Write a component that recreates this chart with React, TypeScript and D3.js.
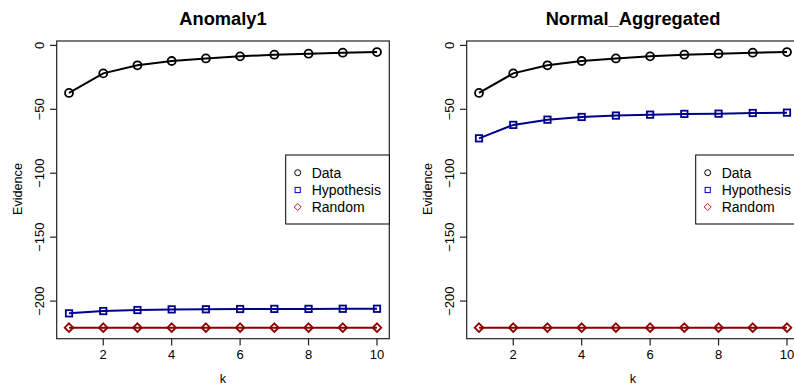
import React from "react";
import * as d3 from "d3";

const kValues = [1, 2, 3, 4, 5, 6, 7, 8, 9, 10];
const anomalyData = [-37.2, -21.9, -15.6, -12.2, -10.2, -8.6, -7.3, -6.5, -5.7, -5.2];
const anomalyHypothesis = [-209.6, -207.8, -207.0, -206.5, -206.4, -206.2, -206.1, -206.1, -206.0, -206.0];
const anomalyRandom = [-220.8, -220.8, -220.8, -220.8, -220.8, -220.8, -220.8, -220.8, -220.8, -220.8];
const normalData = [-37.2, -21.9, -15.6, -12.2, -10.2, -8.6, -7.3, -6.5, -5.7, -5.2];
const normalHypothesis = [-72.7, -62.2, -58.1, -56.0, -54.9, -54.2, -53.6, -53.4, -52.9, -52.6];
const normalRandom = [-220.8, -220.8, -220.8, -220.8, -220.8, -220.8, -220.8, -220.8, -220.8, -220.8];
const xTicks = [2, 4, 6, 8, 10];
const yTicks = [0, -50, -100, -150, -200];
const seriesNames = ["Data", "Hypothesis", "Random"];
const panelTitles = ["Anomaly1", "Normal_Aggregated"];

const FONT = "'Liberation Sans', Arial, Helvetica, sans-serif";
const COLORS = ["#000000", "#00008B", "#8B0000"];
const LEGEND_COLORS = ["#000000", "#0000CD", "#B22222"];

function Marker({ kind, x, y, color, size, sw }: { kind: number; x: number; y: number; color: string; size: number; sw: number }) {
  if (kind === 0) return <circle cx={x} cy={y} r={size} fill="none" stroke={color} strokeWidth={sw} />;
  if (kind === 1)
    return <rect x={x - size} y={y - size} width={size * 2} height={size * 2} fill="none" stroke={color} strokeWidth={sw} />;
  const d = size * 1.35;
  return (
    <path d={`M${x},${y - d}L${x + d},${y}L${x},${y + d}L${x - d},${y}Z`} fill="none" stroke={color} strokeWidth={sw} />
  );
}

function Panel({ offset, title, series }: { offset: number; title: string; series: number[][] }) {
  const left = 56.7 + offset;
  const right = 389.3 + offset;
  const top = 41;
  const bottom = 338.7;
  const xExt = d3.extent(kValues) as [number, number];
  const xPad = (xExt[1] - xExt[0]) * 0.04;
  const x = d3.scaleLinear().domain([xExt[0] - xPad, xExt[1] + xPad]).range([left, right]);
  const all = series.flat();
  const yMin = d3.min(all) as number;
  const yMax = d3.max(all) as number;
  const yPad = (yMax - yMin) * 0.04;
  const y = d3.scaleLinear().domain([yMin - yPad, yMax + yPad]).range([bottom, top]);
  const line = d3
    .line<number>()
    .x((_, i) => x(kValues[i]))
    .y((v) => y(v));
  const cx = (left + right) / 2;
  const legLeft = 285.7 + offset;
  const legW = 103.6;
  const legTop = 155;
  const legBottom = 224;
  const rows = [172.7, 190, 207];
  const fmt = (v: number) => (v < 0 ? "\u2212" + Math.abs(v) : String(v));
  return (
    <g>
      <text x={cx} y={24.5} textAnchor="middle" fontFamily={FONT} fontWeight="bold" fontSize={18.3} fill="#000">
        {title}
      </text>
      {series.map((vals, si) => (
        <g key={si}>
          <path d={line(vals) || ""} fill="none" stroke={COLORS[si]} strokeWidth={2} />
          {vals.map((v, i) => (
            <Marker key={i} kind={si} x={x(kValues[i])} y={y(v)} color={COLORS[si]} size={si === 0 ? 4 : 3.2} sw={1.8} />
          ))}
        </g>
      ))}
      <rect x={left} y={top} width={right - left} height={bottom - top} fill="none" stroke="#222" strokeWidth={1.2} />
      {yTicks.map((t) => (
        <g key={t}>
          <line x1={left - 6.7} x2={left} y1={y(t)} y2={y(t)} stroke="#222" strokeWidth={1.2} />
          <text
            transform={`translate(${left - 12.5},${y(t)}) rotate(-90)`}
            textAnchor="middle"
            fontFamily={FONT}
            fontSize={13}
            fill="#000"
          >
            {fmt(t)}
          </text>
        </g>
      ))}
      {xTicks.map((t) => (
        <g key={t}>
          <line x1={x(t)} x2={x(t)} y1={bottom} y2={bottom + 6.8} stroke="#222" strokeWidth={1.2} />
          <text x={x(t)} y={359} textAnchor="middle" fontFamily={FONT} fontSize={13} fill="#000">
            {t}
          </text>
        </g>
      ))}
      <text x={cx} y={382.5} textAnchor="middle" fontFamily={FONT} fontSize={12.6} fill="#000">
        k
      </text>
      <text
        transform={`translate(${21.5 + offset},189) rotate(-90)`}
        textAnchor="middle"
        fontFamily={FONT}
        fontSize={12.6}
        fill="#000"
      >
        Evidence
      </text>
      <rect x={legLeft} y={legTop} width={legW} height={legBottom - legTop} fill="#fff" stroke="#000" strokeWidth={1} />
      {seriesNames.map((n, i) => (
        <g key={n}>
          <Marker kind={i} x={legLeft + 12} y={rows[i]} color={LEGEND_COLORS[i]} size={i === 0 ? 3 : 2.6} sw={1} />
          <text x={legLeft + 26} y={rows[i] + 5} fontFamily={FONT} fontSize={14} fill="#000">
            {n}
          </text>
        </g>
      ))}
    </g>
  );
}

export default function App() {
  return (
    <svg
      width={794}
      height={387}
      style={{ position: "absolute", left: 0, top: 0, background: "#fff" }}
    >
      <rect x={0} y={0} width={794} height={387} fill="#fff" />
      <Panel offset={0} title={panelTitles[0]} series={[anomalyData, anomalyHypothesis, anomalyRandom]} />
      <Panel offset={410} title={panelTitles[1]} series={[normalData, normalHypothesis, normalRandom]} />
    </svg>
  );
}
